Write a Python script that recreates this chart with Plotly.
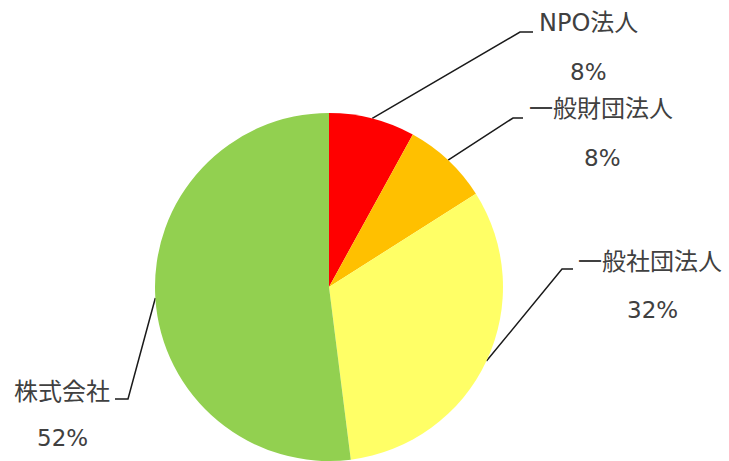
import math
import plotly.graph_objects as go

# Share of organisation types (percent)
categories = ["NPO法人", "一般財団法人", "一般社団法人", "株式会社"]
shares = [8, 8, 32, 52]
colors = ["#FF0000", "#FFC000", "#FFFF66", "#92D050"]

W, H = 729, 461
CX, CY, R = 329, 287, 174  # pie centre / radius in pixels (from top-left)

# label layout: (elbow x, elbow y, line end x, name centre x, name y, pct centre x, pct y)
label_layout = [
    (520, 32, 533, 588, 23, 588, 72),
    (513, 118, 523, 601, 109, 602, 158),
    (562, 269, 573, 650, 262, 652, 310),
    (128, 399, 115, 62, 392, 62, 438),
]

fig = go.Figure()

fig.add_trace(go.Pie(
    labels=categories,
    values=shares,
    sort=False,
    direction="clockwise",
    rotation=0,
    marker=dict(colors=colors, line=dict(width=0)),
    textinfo="none",
    hoverinfo="label+percent",
    showlegend=False,
    domain=dict(x=[(CX - R) / W, (CX + R) / W], y=[0, (H - CY + R) / H]),
))

# pixel-space helper axes for leader lines and labels
fig.update_layout(
    xaxis=dict(range=[0, W], visible=False, fixedrange=True),
    yaxis=dict(range=[H, 0], visible=False, fixedrange=True),
)

total = sum(shares)
cum = 0
font_name = "DejaVu Sans, Noto Sans CJK JP, sans-serif"
for cat, v, lay in zip(categories, shares, label_layout):
    mid = (cum + v / 2) / total * 2 * math.pi
    cum += v
    sx = CX + R * math.sin(mid)
    sy = CY - R * math.cos(mid)
    ex, ey, hx, nx, ny, px, py = lay
    fig.add_trace(go.Scatter(
        x=[sx, ex, hx], y=[sy, ey, ey],
        mode="lines",
        line=dict(color="#1a1a1a", width=1.5),
        hoverinfo="skip",
        showlegend=False,
    ))
    fig.add_annotation(x=nx, y=ny, xref="x", yref="y", text=cat,
                       showarrow=False, xanchor="center", yanchor="middle",
                       font=dict(family=font_name, size=24, color="#404040"))
    fig.add_annotation(x=px, y=py, xref="x", yref="y", text=f"{v}%",
                       showarrow=False, xanchor="center", yanchor="middle",
                       font=dict(family=font_name, size=23, color="#404040"))

fig.update_layout(
    width=W, height=H,
    margin=dict(l=0, r=0, t=0, b=0),
    paper_bgcolor="white",
    plot_bgcolor="rgba(0,0,0,0)",
)

fig.write_html("out.html")
